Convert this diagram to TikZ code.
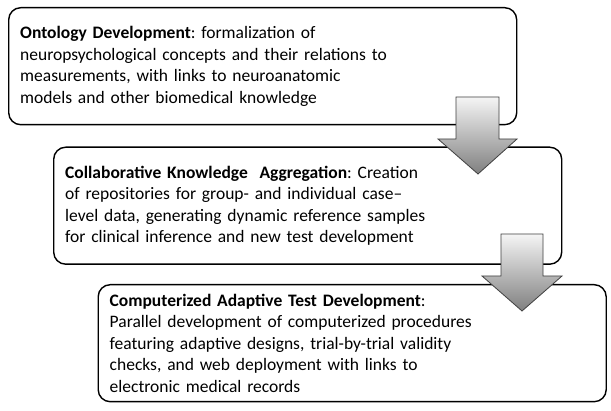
\documentclass[tikz,border=0pt]{standalone}
\usepackage{fontspec}
\setmainfont{Carlito}
\frenchspacing
\begin{document}
\begin{tikzpicture}[x=1pt,y=-1pt,
  stagebox/.style={draw=black, line width=1.4pt, rounded corners=12pt, fill=white,
    anchor=north west, text width=485pt, inner xsep=11.5pt, inner ysep=0pt,
    minimum height=117pt, align=left, font=\fontsize{17.5}{21.5}\selectfont},
  bigarrow/.style={draw=black!75, line width=0.8pt, top color=black!4,
    bottom color=black!50, line join=miter}]
\useasboundingbox (0,0) rectangle (611,411);
\node[stagebox] (ont) at (8,7) {{\bfseries Ontology Development}: formalization of\\
neuropsychological concepts and their relations to\\
measurements, with links to neuroanatomic\\
models and other biomedical knowledge};
\node[stagebox] (col) at (53,146.5) {{\bfseries Collaborative Knowledge~ Aggregation}: Creation\\
of repositories for group- and individual case--\\
level data, generating dynamic reference samples\\
for clinical inference and new test development};
\node[stagebox] (cat) at (97.5,284) {{\bfseries Computerized Adaptive Test Development}:\\
Parallel development of computerized procedures\\
featuring adaptive designs, trial-by-trial validity\\
checks, and web deployment with links to\\
electronic medical records};
\draw[bigarrow] (456,97) -- (499,97) -- (499,139) -- (517,139) -- (478,174)
  -- (438,139) -- (456,139) -- cycle;
\draw[bigarrow] (501,234) -- (543,234) -- (543,276) -- (562,276) -- (522,311)
  -- (482,276) -- (501,276) -- cycle;
\end{tikzpicture}
\end{document}
